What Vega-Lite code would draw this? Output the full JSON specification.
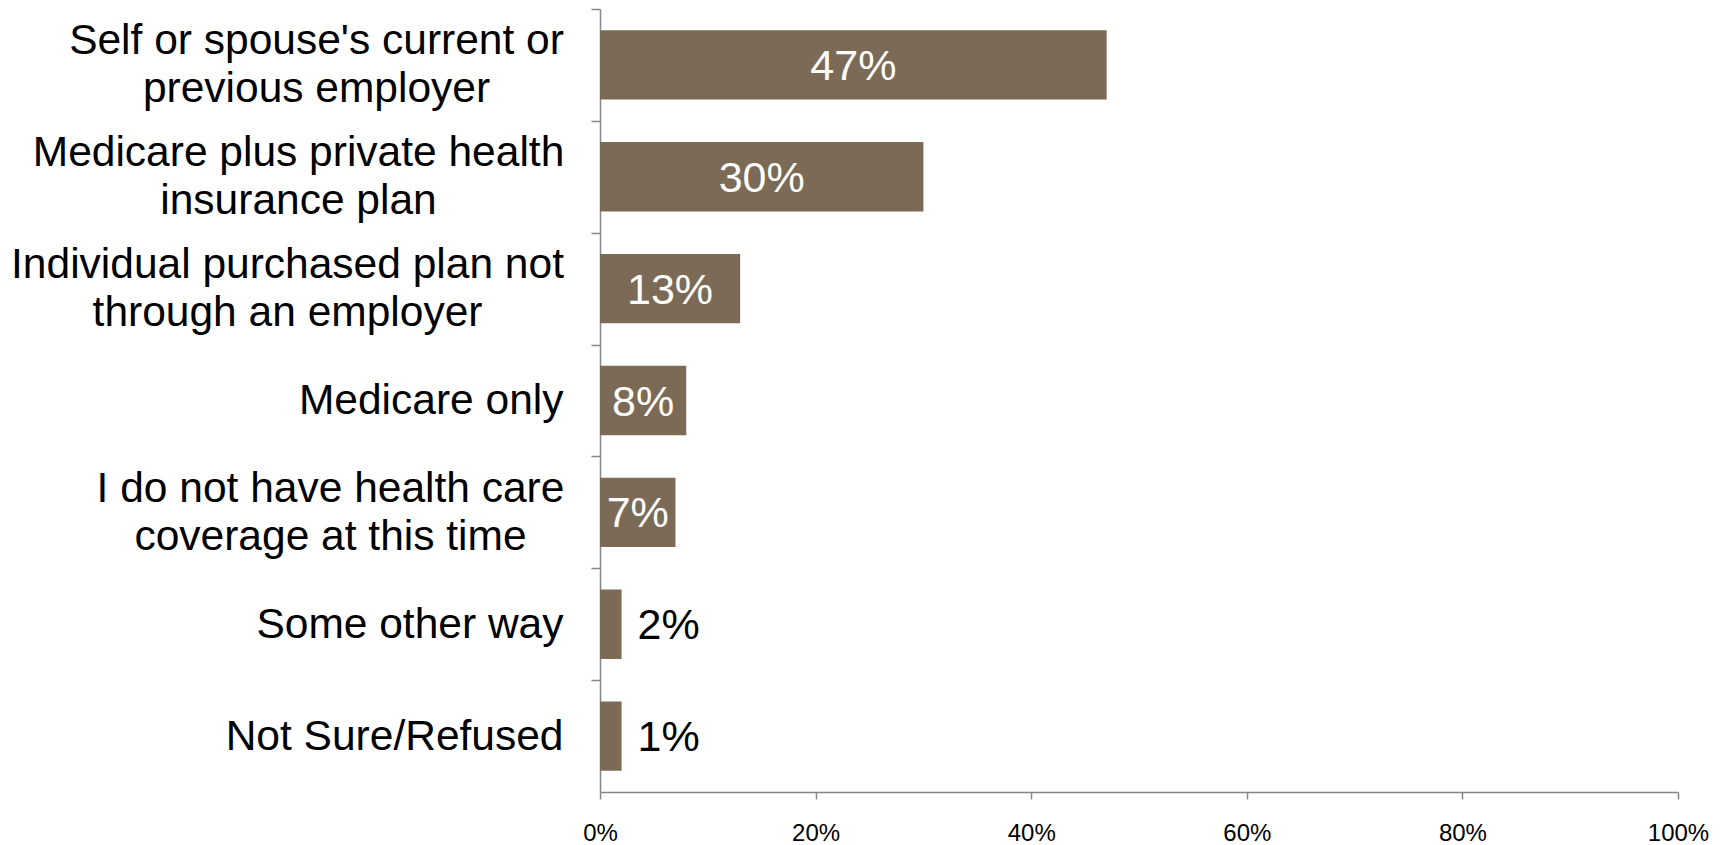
{
  "$schema": "https://vega.github.io/schema/vega-lite/v6.json",
  "width": 1078,
  "height": 783,
  "autosize": {"type": "none"},
  "padding": {"left": 600, "top": 9, "right": 52, "bottom": 53},
  "background": "white",
  "config": {"view": {"stroke": null}, "font": "Liberation Sans"},
  "data": {
    "values": [
      {"source": "Self or spouse's current or|previous employer", "value": 47, "label": "47%"},
      {"source": "Medicare plus private health|insurance plan", "value": 30, "label": "30%"},
      {"source": "Individual purchased plan not|through an employer", "value": 13, "label": "13%"},
      {"source": "Medicare only", "value": 8, "label": "8%"},
      {"source": "I do not have health care|coverage at this time", "value": 7, "label": "7%"},
      {"source": "Some other way", "value": 2, "label": "2%"},
      {"source": "Not Sure/Refused", "value": 2, "label": "1%"}
    ]
  },
  "encoding": {
    "y": {
      "field": "source",
      "type": "nominal",
      "sort": null,
      "scale": {"paddingInner": 0.38, "paddingOuter": 0.19},
      "axis": {
        "title": null,
        "labelExpr": "split(datum.label, '|')",
        "labelFontSize": 42.5,
        "labelLineHeight": 48,
        "labelColor": "#000000",
        "labelAlign": {"condition": {"test": "indexof(datum.value, '|') >= 0", "value": "center"}, "value": "right"},
        "labelPadding": {
          "condition": [
            {"test": "indexof(datum.value, 'Self') == 0", "value": 275},
            {"test": "indexof(datum.value, 'Medicare plus') == 0", "value": 293},
            {"test": "indexof(datum.value, 'Individual') == 0", "value": 304},
            {"test": "indexof(datum.value, 'I do not') == 0", "value": 261}
          ],
          "value": 28
        },
        "labelLimit": 0,
        "labelBaseline": "middle",
        "tickSize": 9,
        "tickOffset": -55.93,
        "labelOffset": {"condition": {"test": "indexof(datum.value, '|') >= 0", "value": 31.93}, "value": 55.93},
        "domainColor": "#868686",
        "tickColor": "#868686",
        "domainWidth": 1.5,
        "tickWidth": 1.5
      }
    }
  },
  "layer": [
    {
      "mark": {"type": "bar", "color": "#7B6A56"},
      "encoding": {
        "x": {
          "field": "value",
          "type": "quantitative",
          "scale": {"domain": [0, 100], "nice": false},
          "axis": {
            "title": null,
            "values": [0, 20, 40, 60, 80, 100],
            "labelExpr": "datum.value + '%'",
            "labelFontSize": 24,
            "labelColor": "#000000",
            "labelPadding": 22,
            "labelFlush": false,
            "tickSize": 7,
            "grid": false,
            "domainColor": "#868686",
            "tickColor": "#868686",
            "domainWidth": 1.5,
            "tickWidth": 1.5
          }
        }
      }
    },
    {
      "transform": [{"filter": "datum.value > 5"}, {"calculate": "datum.value / 2", "as": "mid"}],
      "mark": {"type": "text", "color": "white", "fontSize": 43, "baseline": "middle", "dy": 2},
      "encoding": {
        "x": {"field": "mid", "type": "quantitative"},
        "text": {"field": "label"}
      }
    },
    {
      "transform": [{"filter": "datum.value <= 5"}],
      "mark": {"type": "text", "color": "black", "align": "left", "dx": 16, "fontSize": 43, "baseline": "middle", "dy": 2},
      "encoding": {
        "x": {"field": "value", "type": "quantitative"},
        "text": {"field": "label"}
      }
    }
  ]
}
